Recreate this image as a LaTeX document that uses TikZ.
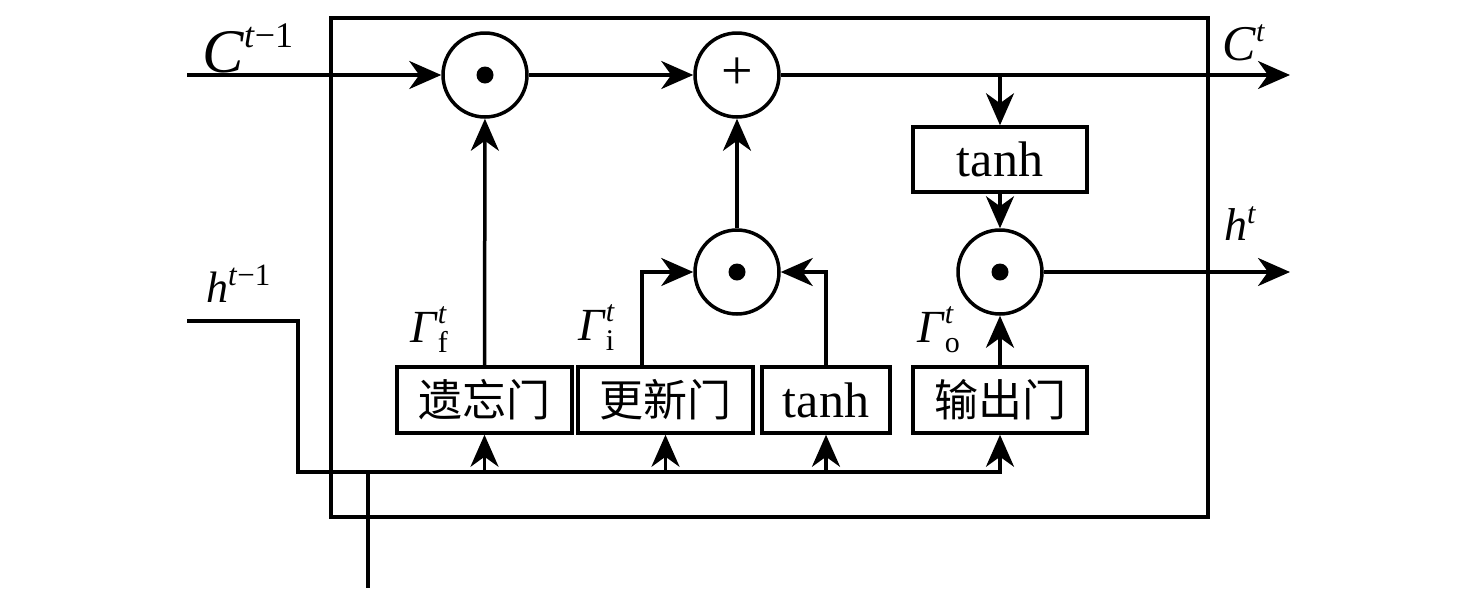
\documentclass[tikz,border=0pt]{standalone}
\usepackage{fontspec}
\setmainfont{Liberation Serif}
\newfontfamily\cjk{Noto Sans CJK SC}
\usetikzlibrary{arrows.meta}
\newcommand{\gam}[1]{\fontsize{46}{50}\selectfont\textit{Γ}\rlap{\raisebox{19pt}{\fontsize{30}{32}\selectfont\textit{t}}}\raisebox{-10pt}{\fontsize{30}{32}\selectfont #1}}
\tikzset{
  ln/.style={line width=3.5pt},
  arr/.style={ln, -{Stealth[length=32pt,width=28pt,inset=10pt]}},
  op/.style={circle, draw, line width=3.5pt, minimum size=84pt, inner sep=0pt},
  bx/.style={draw, line width=3.5pt, minimum height=66pt, inner sep=0pt},
  zh/.style={bx, font=\cjk\fontsize{44}{48}\selectfont},
  en/.style={bx, font=\fontsize{50}{54}\selectfont},
  lab/.style={anchor=base west, inner sep=0pt}
}
\begin{document}
\begin{tikzpicture}[x=1pt,y=-1pt]
\useasboundingbox (0,0) rectangle (1476,590);
% outer cell box
\draw[ln] (331,18) rectangle (1208,517);
% operators
\node[op] (c1) at (485,75) {};
\node[op, font=\fontsize{56}{60}\selectfont] (c2) at (737,75) {\raisebox{3pt}{+}};
\node[op] (c4) at (737,272) {};
\node[op] (c3) at (1000,272) {};
\foreach \c in {c1,c4,c3} \fill (\c) circle (8.5pt);
% boxes
\node[zh, minimum width=175pt] (fg) at (484.5,400) {遗忘门};
\node[zh, minimum width=175pt] (ig) at (665.5,400) {更新门};
\node[en, minimum width=128pt] (tb) at (826,400) {tanh};
\node[zh, minimum width=174pt] (og) at (1000,400) {输出门};
\node[en, minimum width=174pt, minimum height=65pt] (tt) at (1000,159.5) {tanh};
% coordinates
\coordinate (cin) at (187,75);
\coordinate (cout) at (1290,75);
\coordinate (br) at (1000,75);
\coordinate (hout) at (1290,272);
\coordinate (hin) at (187,321);
\coordinate (b0) at (298,472);
\coordinate (v0) at (368,472);
\coordinate (v1) at (368,588);
\coordinate (ib) at (642,367);
% cell state path
\draw[arr] (cin) -- (c1);
\draw[arr] (c1) -- (c2);
\draw[arr] (c2) -- (cout);
\draw[arr] (br) -- (tt);
\draw[arr] (tt) -- (c3);
\draw[arr] (c3) -- (hout);
% gates
\draw[arr] (fg) -- (c1);
\draw[arr] (ib) |- (c4);
\draw[arr] (tb.north) |- (c4);
\draw[arr] (c4) -- (c2);
\draw[arr] (og) -- (c3);
% input bus
\draw[arr] (hin) -| (b0) -| (og.south);
\draw[arr] (b0 -| fg.south) -- (fg.south);
\draw[arr] (b0 -| ig.south) -- (ig.south);
\draw[arr] (b0 -| tb.south) -- (tb.south);
\draw[ln] (v0) -- (v1);
% labels
\node[lab] (lc0) at (202,72) {\fontsize{62}{66}\selectfont\textit{C}\raisebox{25pt}{\fontsize{36}{38}\selectfont\textit{t}−1}};
\node[lab] (lh0) at (206,302) {\fontsize{44}{48}\selectfont\textit{h}\raisebox{17pt}{\fontsize{31}{33}\selectfont\textit{t}−1}};
\node[lab] (lc1) at (1222,60) {\fontsize{50}{54}\selectfont\textit{C}\raisebox{19pt}{\fontsize{30}{32}\selectfont\textit{t}}};
\node[lab] (lh1) at (1224,240) {\fontsize{46}{50}\selectfont\textit{h}\raisebox{17pt}{\fontsize{30}{32}\selectfont\textit{t}}};
\node[lab] (gf) at (410,342) {\gam{f}};
\node[lab] (gi) at (578,340) {\gam{i}};
\node[lab] (go) at (917,342) {\gam{o}};
\end{tikzpicture}
\end{document}
